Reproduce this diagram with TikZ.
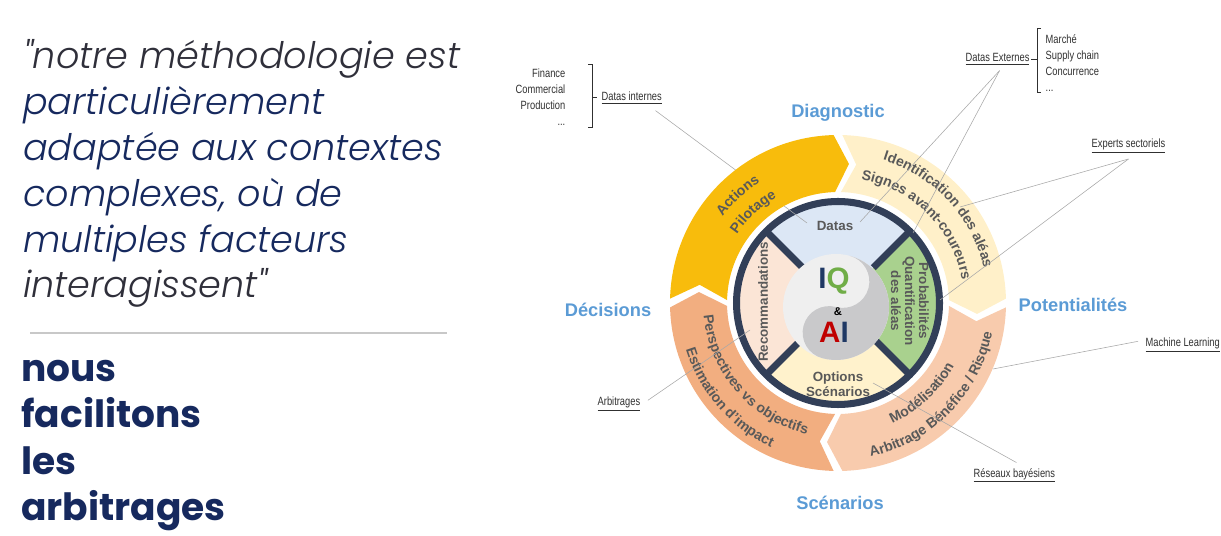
\documentclass[tikz,border=0pt]{standalone}
\usepackage{fontspec}
\setmainfont{Liberation Sans}
\IfFontExistsTF{Poppins Light Italic}
  {\newfontfamily\quotefont{Poppins}[ItalicFont={Poppins Light Italic}]}
  {\newfontfamily\quotefont{Poppins}}
\newfontfamily\notefont[FakeStretch=0.78]{Liberation Sans}
\usetikzlibrary{positioning,calc,decorations.text}

\definecolor{navy}{HTML}{16295E}
\definecolor{quotegray}{HTML}{2F2F3A}
\definecolor{rulegray}{HTML}{C8C8C8}
\definecolor{labelblue}{HTML}{5B9BD5}
\definecolor{textgray}{HTML}{595959}
\definecolor{notegray}{HTML}{303030}
\definecolor{leadgray}{HTML}{A8A8A8}
\definecolor{gold}{HTML}{F8BC0C}
\definecolor{paleyellow}{HTML}{FFF0C9}
\definecolor{peach}{HTML}{F8CBAD}
\definecolor{tangerine}{HTML}{F2AE80}
\definecolor{ringnavy}{HTML}{323F58}
\definecolor{qdatas}{HTML}{DCE7F5}
\definecolor{qproba}{HTML}{A9D18E}
\definecolor{qoptions}{HTML}{FFF2CC}
\definecolor{qrecomm}{HTML}{FBE5D6}
\definecolor{yinlight}{HTML}{EFEFEF}
\definecolor{yindark}{HTML}{C9C9CB}
\definecolor{iqnavy}{HTML}{1F3864}
\definecolor{iqgreen}{HTML}{70AD47}
\definecolor{aired}{HTML}{C00000}

\newcommand\ringfont{\fontsize{10}{12}\selectfont\bfseries}
% one arrow-shaped piece of the outer ring, clockwise from #1 to #2
\newcommand\ringseg[3]{\fill[#3] (#1-1.5:168) arc[start angle=#1-1.5, end angle=#2+1.5, radius=168] -- (#2-4.5:139.5) -- (#2+1.5:111) arc[start angle=#2+1.5, end angle=#1-1.5, radius=111] -- (#1-7.5:139.5) -- cycle;}
% curved label on the ring
\newcommand\arctext[4]{\path[decorate, decoration={text along path, text align=center, text color=textgray, text={|\ringfont|#4}}] (#2:#1) arc[start angle=#2, end angle=#3, radius=#1];}

\begin{document}
\begin{tikzpicture}[x=0.025cm, y=0.025cm,
    quote/.style={font=\quotefont\itshape\fontsize{26}{30}\selectfont, anchor=base west, inner sep=0pt},
    punch/.style={font=\quotefont\bfseries\fontsize{26.7}{34}\selectfont, text=navy, anchor=base west, inner sep=0pt},
    phase/.style={font=\bfseries\fontsize{13}{15}\selectfont, text=labelblue},
    quad/.style={font=\bfseries\fontsize{9.5}{11}\selectfont, text=textgray, align=center},
    note/.style={font=\notefont\fontsize{8.5}{11.4}\selectfont, text=notegray, inner sep=1pt},
    leader/.style={draw=leadgray, line width=0.4pt},
    bracket/.style={draw=notegray, line width=0.5pt},
]
\useasboundingbox (0,0) rectangle (1221,-536);

% Quote on the left
\foreach \txt/\col [count=\i] in {{"notre méthodologie est}/quotegray, particulièrement/navy, adaptée aux contextes/navy, {complexes, où de}/navy, multiples facteurs/navy, {interagissent"}/quotegray}
  \node[quote, text=\col] (q\i) at (23,-69-45.8*\i+45.8) {\txt};
\draw[rulegray, line width=2pt] (30,-333) -- (447,-333);
\foreach \txt [count=\i] in {nous, facilitons, les, arbitrages}
  \node[punch] (p\i) at (21,-382-46*\i+46) {\txt};

% Wheel
\begin{scope}[shift={(838,-303)}]
  % inner quadrants
  \fill[qdatas] (0,0) -- (45:101.5) arc[start angle=45, end angle=135, radius=101.5] -- cycle;
  \fill[qrecomm] (0,0) -- (135:101.5) arc[start angle=135, end angle=225, radius=101.5] -- cycle;
  \fill[qoptions] (0,0) -- (225:101.5) arc[start angle=225, end angle=315, radius=101.5] -- cycle;
  \fill[qproba] (0,0) -- (315:101.5) arc[start angle=315, end angle=405, radius=101.5] -- cycle;
  \foreach \a in {45,135,225,315}
    \draw[ringnavy, line width=5pt] (\a:50) -- (\a:101.5);
  \draw[ringnavy, line width=5pt] (0,0) circle[radius=101.5];
  % yin-yang core
  \begin{scope}[shift={(-2,-4)}]
    \fill[yinlight] (0,0) circle[radius=53];
    \fill[yindark] (75:53) arc[start angle=75, end angle=-105, radius=53]
      arc[start angle=255, end angle=75, radius=26.5]
      arc[start angle=255, end angle=435, radius=26.5] -- cycle;
  \end{scope}
\end{scope}

% leader line hidden under the ring
\node[note, anchor=base west] (dint) at (600,-101) {\underline{Datas internes}};
\coordinate (dintend) at (807,-223);
\draw[leader] ($(dint.south east)+(-8,-5)$) -- (dintend);

\begin{scope}[shift={(838,-303)}]
  % outer ring
  \ringseg{180}{90}{gold}
  \ringseg{90}{0}{paleyellow}
  \ringseg{0}{-90}{peach}
  \ringseg{-90}{-180}{tangerine}
  \arctext{144}{183}{83}{Actions}
  \arctext{122}{183}{83}{Pilotage}
  \arctext{150}{93}{-7}{Identification des aléas}
  \arctext{126}{95}{-5}{Signes avant-coureurs}
  \arctext{132}{-102}{8}{Modélisation}
  \arctext{157}{-100}{11}{Arbitrage Bénéfice / Risque}
  \arctext{135}{166}{276}{Perspectives vs objectifs}
  \arctext{159}{171}{271}{Estimation d'impact}
  % quadrant labels
  \node[quad] (datas) at (-3,77) {Datas};
  \node[quad, rotate=90] (recomm) at (-75,1) {Recommandations};
  \node[quad, rotate=-90, font=\bfseries\fontsize{9.5}{10}\selectfont] (proba) at (72,2) {Probabilités\\Quantification\\des aléas};
  \node[quad, font=\bfseries\fontsize{9.5}{10.7}\selectfont] (options) at (0,-81) {Options\\Scénarios};
  % core
  \node[font=\bfseries\fontsize{21}{21}\selectfont] (iq) at (-4,22) {\textcolor{iqnavy}{I}\textcolor{iqgreen}{Q}};
  \node[font=\bfseries\fontsize{8}{8}\selectfont] (amp) at (0,-9) {\&};
  \node[font=\bfseries\fontsize{21}{21}\selectfont] (ai) at (-4,-29) {\textcolor{aired}{A}\textcolor{iqnavy}{I}};
\end{scope}

% phase labels
\node[phase] (diag) at (838,-113) {Diagnostic};
\node[phase] (pot) at (1073,-305) {Potentialités};
\node[phase] (scen) at (840,-503) {Scénarios};
\node[phase] (deci) at (608,-310) {Décisions};

% internal data sources
\node[note, align=right, anchor=east] (intlist) at (567,-97) {Finance\\Commercial\\Production\\...};
\draw[bracket] (588,-64) -- (592,-64) -- (592,-127) -- (588,-127);
\draw[bracket] (592,-97) -- (597,-97);

% external data sources
\node[note, anchor=base west] (dext) at (964,-62) {\underline{Datas Externes}};
\node[note, align=left, anchor=west] (extlist) at (1044,-63) {Marché\\Supply chain\\Concurrence\\...};
\draw[bracket] (1041,-28) -- (1037,-28) -- (1037,-92) -- (1041,-92);
\draw[bracket] (1031,-59) -- (1037,-59);

% other sources
\node[note, anchor=base west] (expt) at (1090,-148) {\underline{Experts sectoriels}};
\node[note, anchor=base west] (ml) at (1144,-347) {\underline{Machine Learning}};
\node[note, anchor=base west] (rb) at (972,-477) {\underline{Réseaux bayésiens}};
\node[note, anchor=base west] (arb) at (596,-406) {\underline{Arbitrages}};

% leader lines
\coordinate (dextA) at (860,-222);
\coordinate (dextB) at (913,-233);
\coordinate (exptA) at (960,-207);
\coordinate (exptB) at (940,-300);
\coordinate (mlend) at (993,-369);
\coordinate (rbend) at (873,-383);
\coordinate (arbend) at (750,-330);
\draw[leader] ($(dext.south)+(2,-4)$) -- (dextA);
\draw[leader] ($(dext.south)+(2,-4)$) -- (dextB);
\draw[leader] ($(expt.south)+(0,-4)$) -- (exptA);
\draw[leader] ($(expt.south)+(0,-4)$) -- (exptB);
\draw[leader] ($(ml.west)+(-6,4)$) -- (mlend);
\draw[leader] ($(rb.north)+(2,4)$) -- (rbend);
\draw[leader] ($(arb.east)+(6,4)$) -- (arbend);

\end{tikzpicture}
\end{document}
